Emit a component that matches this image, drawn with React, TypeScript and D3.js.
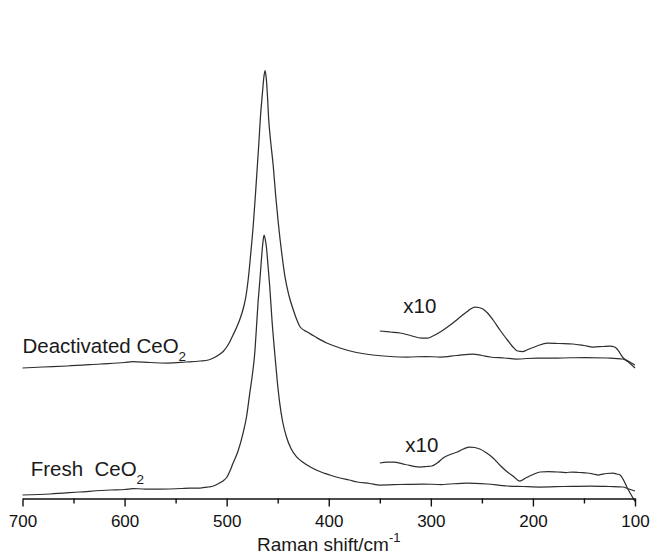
import React, { useEffect, useRef } from "react";
import * as d3 from "d3";

const W = 652;
const H = 558;

// Raman shift (cm-1) and intensity (a.u., offset already applied)
const xMajorTicks = [700, 600, 500, 400, 300, 200, 100];
const xMinorTicks = [650, 550, 450, 350, 250, 150];

const freshMain: [number, number][] = [
  [700, 3.5], [673, 4.5], [644, 6.5], [614, 8.5], [600, 9], [592, 10], [580, 9.5],
  [565, 9.5], [545, 10], [536, 10.5], [526, 10.5], [518, 11.5], [513, 12.5], [507, 15.5],
  [503, 18], [500, 21], [497, 27], [493.8, 35.2], [489, 47], [484, 65.2], [480.5, 82],
  [477.4, 105.2], [474.8, 124], [472.5, 145.2], [471, 168], [469.3, 195.2], [467.5, 218],
  [466, 238.5], [464.6, 255], [463.4, 263.5], [462.2, 259], [461.1, 251.8], [459.5, 233],
  [457.8, 211.8], [455.5, 177], [452.9, 145.2], [450.5, 118], [448, 95.2], [445, 76],
  [441.5, 61.8], [437, 50], [431.7, 41.8], [425, 36], [418, 31.5], [410, 27.5], [399, 23.5],
  [389, 20.5], [380, 18.5], [372, 16.5], [360, 15], [350, 13.5], [330, 14], [308, 14.5],
  [290, 14], [265, 15.5], [245, 14.5], [225, 12.5], [210, 12], [193, 11.5], [170, 12],
  [144, 12.5], [125, 12], [112, 11.5], [106, 9.5], [100, 7.5],
];

const deactMain: [number, number][] = [
  [700, 130.5], [680, 131.5], [656, 132.5], [624, 134.5], [600, 136], [592, 137], [575, 136],
  [558, 135.5], [540, 136.5], [526, 137.5], [518, 138.5], [513, 140.5], [506.5, 144.5],
  [503, 147.5], [500, 151.5], [497, 156.5], [494, 163], [490.5, 170.5], [487.5, 178],
  [485, 185.5], [483, 193], [481, 203], [478.8, 220], [476.5, 244], [473.9, 274],
  [472, 301], [470, 331.8], [468.5, 355], [466.9, 381.8], [465, 405], [463.6, 421],
  [462.4, 427.8], [461.2, 420], [460, 402], [459, 381.8], [456.8, 356], [454.3, 331.8],
  [452, 303], [449.4, 275.2], [446, 245], [442.9, 221.8], [439, 203], [434.7, 188.5],
  [431, 178], [428, 171.5], [421, 166.5], [412, 161], [402, 155.5], [389, 150.5],
  [375, 146.5], [357, 143.5], [340, 142], [323, 141.5], [305, 142], [291, 141.5],
  [275, 143], [259, 144.5], [250, 143], [242, 141.5], [228, 140.5], [216, 139.5],
  [196, 140.5], [176, 140.5], [150, 141], [127, 140.5], [112, 139.5], [106, 136],
  [100, 130.5],
];

const deactX10: [number, number][] = [
  [350, 167.5], [340, 166.5], [330, 165.5], [320, 163], [309, 160.5], [303, 160.5],
  [298, 162.5], [290, 167], [281, 173.5], [273, 180], [265, 186.5], [261, 189.5],
  [257, 191.5], [253, 191], [249, 189.5], [244, 185], [239, 178.5], [232, 168],
  [225, 158.5], [220, 152], [215, 147.5], [210, 147], [206, 148.5], [196, 152.5],
  [186, 155.5], [174, 155], [161, 154.5], [150, 153], [141, 151.5], [132, 152],
  [124.5, 152.5], [120, 151.5], [117.5, 149.5], [114.5, 145], [111.5, 140.5],
  [106, 137], [100, 133.5],
];

const freshX10: [number, number][] = [
  [350, 35.5], [343, 36.5], [337, 36.5], [325, 34], [311, 31.5], [304, 32],
  [299, 32.5], [293, 36], [288, 40.5], [281, 44], [274, 46.5], [268, 49.5], [262, 51.5],
  [257, 51], [252, 49.5], [246, 46], [239, 40.5], [232, 33], [225, 26.5], [219, 22],
  [213, 17.5], [207, 20.5], [201, 23.5], [193, 26.5], [185, 27], [176, 26.5], [168, 26],
  [161, 26.5], [154, 26], [147, 25.5], [141, 24.5], [136, 23.5], [128, 25], [121.5, 25.5],
  [118, 24.5], [114.7, 23.5], [111, 18], [108, 11.5], [104.5, 5], [100, -3],
];

const curveLabels = [
  { text: "Deactivated CeO", sub: "2", shift: 700, value: 145.5 },
  { text: "Fresh\u00a0\u00a0CeO", sub: "2", shift: 692, value: 22.5 },
];
const scaleLabels = [
  { text: "x10", shift: 327, value: 185.5 },
  { text: "x10", shift: 325, value: 46.5 },
];

const FONT = "'Liberation Sans', Arial, Helvetica, sans-serif";
const LINE = "#2e2e2e";

export default function App() {
  const axisRef = useRef<SVGGElement>(null);
  const minorRef = useRef<SVGGElement>(null);

  const x = d3.scaleLinear().domain([700, 100]).range([22.5, 635]);
  const y = d3.scaleLinear().domain([0, 450]).range([498.5, 48.5]);
  const line = d3
    .line<[number, number]>()
    .x((d) => x(d[0]))
    .y((d) => y(d[1]))
    .curve(d3.curveMonotoneX);

  useEffect(() => {
    if (axisRef.current) {
      const g = d3.select(axisRef.current);
      g.call(
        d3
          .axisBottom(x)
          .tickValues(xMajorTicks)
          .tickSize(8)
          .tickSizeOuter(0)
          .tickPadding(8)
          .tickFormat(d3.format("d"))
      );
      g.select(".domain").attr("stroke", "#111").attr("stroke-width", 1.4);
      g.selectAll(".tick line").attr("stroke", "#111").attr("stroke-width", 1.4);
      g.selectAll(".tick text")
        .attr("font-family", FONT)
        .attr("font-size", 17)
        .attr("fill", "#111");
    }
    if (minorRef.current) {
      const g = d3.select(minorRef.current);
      g.call(
        d3
          .axisBottom(x)
          .tickValues(xMinorTicks)
          .tickSize(5)
          .tickSizeOuter(0)
          .tickFormat(() => "")
      );
      g.select(".domain").remove();
      g.selectAll(".tick line").attr("stroke", "#111").attr("stroke-width", 1.4);
    }
  }, []);

  const series = [freshMain, deactMain, deactX10, freshX10];

  return (
    <svg
      width={W}
      height={H}
      style={{ position: "absolute", left: 0, top: 0, background: "#fff" }}
    >
      <rect x={0} y={0} width={W} height={H} fill="#fff" />
      {series.map((s, i) => (
        <path key={i} d={line(s) || ""} fill="none" stroke={LINE} strokeWidth={1.25} strokeLinejoin="round" />
      ))}
      <g ref={axisRef} transform={`translate(0,${y(0)})`} />
      <g ref={minorRef} transform={`translate(0,${y(0)})`} />
      {curveLabels.map((l, i) => (
        <text key={i} x={x(l.shift)} y={y(l.value)} fontFamily={FONT} fontSize={20.5} fill="#1a1a1a">
          {l.text}
          <tspan fontSize={13.5} dy={8}>{l.sub}</tspan>
        </text>
      ))}
      {scaleLabels.map((l, i) => (
        <text key={i} x={x(l.shift)} y={y(l.value)} fontFamily={FONT} fontSize={20.5} fill="#1a1a1a">
          {l.text}
        </text>
      ))}
      <text x={(x(700) + x(100)) / 2} y={551} textAnchor="middle" fontFamily={FONT} fontSize={19} fill="#1a1a1a">
        Raman shift/cm
        <tspan fontSize={13} dy={-9}>-1</tspan>
      </text>
    </svg>
  );
}
